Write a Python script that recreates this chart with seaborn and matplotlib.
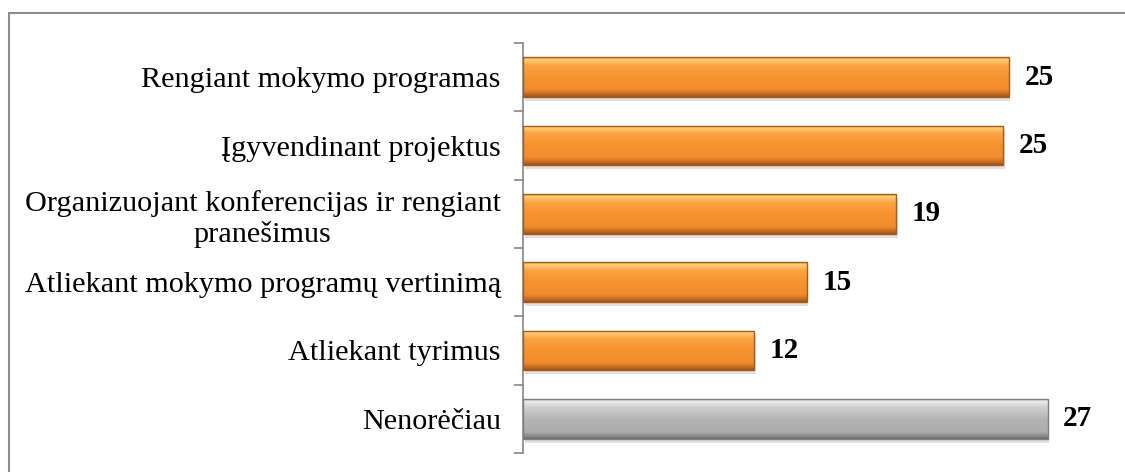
import numpy as np
import pandas as pd
import matplotlib
matplotlib.use("Agg")
import matplotlib.pyplot as plt
import seaborn as sns
from matplotlib.colors import LinearSegmentedColormap
from matplotlib.patches import Rectangle

categories = [
    "Rengiant mokymo programas",
    "Įgyvendinant projektus",
    "Organizuojant konferencijas ir rengiant\npranešimus",
    "Atliekant mokymo programų vertinimą",
    "Atliekant tyrimus",
    "Nenorėčiau",
]
values = [25.0, 24.7, 19.2, 14.6, 11.9, 27.0]
groups = ["yes", "yes", "yes", "yes", "yes", "no"]

df = pd.DataFrame({"category": categories, "value": values, "group": groups})

sns.set_style("white")
plt.rcParams["font.family"] = ["Liberation Serif", "DejaVu Serif"]

W, H = 1125, 472
fig = plt.figure(figsize=(W / 100, H / 100), dpi=100)
ax = fig.add_axes([523 / W, 1 - 453 / H, 583 / W, (453 - 43) / H])

palette = {"yes": "#F7932F", "no": "#B4B4B4"}
sns.barplot(data=df, y="category", x="value", hue="group", palette=palette,
            orient="h", width=0.58, dodge=False, legend=False, ax=ax,
            edgecolor="none", linewidth=0)

cmaps = {
    "yes": LinearSegmentedColormap.from_list("o", [
        (0.0, "#E9923A"), (0.05, "#FFD27A"), (0.2, "#FBA444"), (0.5, "#F7932F"),
        (0.82, "#F08C2D"), (0.93, "#C56C22"), (1.0, "#9E5418")]),
    "no": LinearSegmentedColormap.from_list("g", [
        (0.0, "#BDBDBD"), (0.05, "#EDEDED"), (0.2, "#D0D0D0"), (0.5, "#B4B4B4"),
        (0.82, "#ADADAD"), (0.93, "#8C8C8C"), (1.0, "#6E6E6E")]),
}

grad = np.linspace(0, 1, 64).reshape(-1, 1)
bars = sorted(ax.patches, key=lambda p: p.get_y())
for p, g, v in zip(bars, groups, values):
    x0, y0, w, h = p.get_x(), p.get_y(), p.get_width(), p.get_height()
    ax.add_patch(Rectangle((x0 + 0.08, y0 + 0.06), w, h, facecolor="#000000",
                           alpha=0.12, edgecolor="none", zorder=0.5))
    im = ax.imshow(grad, cmap=cmaps[g], aspect="auto", origin="upper",
                   extent=(x0, x0 + w, y0 + h, y0), zorder=2, interpolation="bilinear")
    im.set_clip_path(p)
    edge = "#A85A1A" if g == "yes" else "#7E7E7E"
    ax.add_patch(Rectangle((x0, y0), w, h, fill=False, edgecolor=edge, lw=1.0, zorder=3))
    ax.text(x0 + w + 0.8, y0 + h / 2, f"{v:.0f}", va="center", ha="left",
            fontsize=21, fontweight="bold", color="black")

ax.set_xlim(0, 30)
ax.set_ylim(5.5, -0.5)
ax.set_xlabel("")
ax.set_ylabel("")
ax.set_xticks([])
ax.set_yticks(range(len(categories)))
ax.set_yticklabels(categories, fontsize=21.8, color="black")
for t in ax.get_yticklabels():
    t.set_multialignment("center")
ax.set_yticks(np.arange(-0.5, len(categories)), minor=True)
ax.tick_params(axis="y", which="major", length=0, pad=16)
ax.tick_params(axis="y", which="minor", length=6.5, width=1.2, color="#868686", left=True)
for s in ["top", "right", "bottom"]:
    ax.spines[s].set_visible(False)
ax.spines["left"].set_color("#868686")
ax.spines["left"].set_linewidth(1.2)

fig.add_artist(Rectangle((9 / W, -0.2), 1.5, 1 - 13 / H + 0.2, transform=fig.transFigure,
                         fill=False, edgecolor="#8C8C8C", lw=1.5, clip_on=False))

fig.savefig("out.png", dpi=100)
